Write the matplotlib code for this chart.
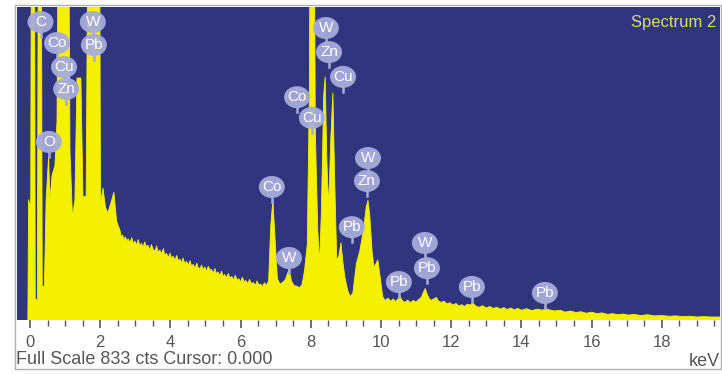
import matplotlib
matplotlib.use("Agg")
import matplotlib.pyplot as plt
import matplotlib.transforms as mtransforms
from matplotlib.patches import Ellipse, Rectangle

plt.rcParams['font.family'] = ['Liberation Sans', 'DejaVu Sans']

# spectrum: energy (keV) and counts
kev = [-0.06, -0.04, 0.02, 0.05, 0.12, 0.15, 0.21, 0.25, 0.31, 0.35, 0.41, 0.46, 0.53, 0.57,
       0.63, 0.71, 0.77, 0.83, 1.08, 1.14, 1.21, 1.28, 1.34, 1.45, 1.51, 1.60, 1.68, 1.97,
       2.01, 2.08, 2.15, 2.22, 2.30, 2.39, 2.47,
       2.56, 2.60, 2.64, 2.68, 2.72, 2.76, 2.80, 2.85, 2.90, 2.94, 2.99, 3.04, 3.08, 3.13,
       3.18, 3.22, 3.27, 3.31, 3.36, 3.42, 3.46, 3.51, 3.56, 3.61, 3.65, 3.70, 3.75, 3.80,
       3.84, 3.89, 3.94, 3.99, 4.03, 4.08, 4.13, 4.18, 4.22, 4.27, 4.32, 4.36, 4.41, 4.46,
       4.51, 4.56, 4.60, 4.65, 4.70, 4.75, 4.79, 4.84, 4.89, 4.93, 4.98, 5.03, 5.08, 5.13,
       5.17, 5.22, 5.27, 5.31, 5.36, 5.41, 5.46, 5.50, 5.55, 5.60, 5.65, 5.70, 5.75, 5.80,
       5.85, 5.90, 5.95, 6.00, 6.05, 6.10, 6.15, 6.20, 6.26, 6.31, 6.36, 6.42, 6.47, 6.52,
       6.57, 6.62, 6.68, 6.74, 6.80,
       6.86, 6.92, 6.98, 7.05, 7.12, 7.20, 7.28, 7.38, 7.45, 7.52, 7.60,
       7.68, 7.75, 7.82, 7.90, 7.96, 8.00, 8.08, 8.13, 8.20, 8.25, 8.30, 8.37, 8.41, 8.46,
       8.51, 8.57, 8.63, 8.68, 8.74, 8.80, 8.86, 8.92, 8.98, 9.05, 9.12, 9.20, 9.30, 9.40,
       9.50, 9.58, 9.63, 9.68, 9.75, 9.80, 9.86, 9.91, 9.97,
       10.05, 10.12, 10.20, 10.28, 10.35, 10.42, 10.50, 10.54, 10.60, 10.68, 10.76, 10.84,
       10.92, 11.00, 11.08, 11.15, 11.20, 11.26, 11.31, 11.37, 11.43, 11.50, 11.58, 11.64,
       11.72, 11.80, 11.88, 11.96, 12.05, 12.14, 12.22, 12.30, 12.38, 12.46, 12.54, 12.62,
       12.70, 12.80, 12.90, 13.00, 13.10, 13.20, 13.30, 13.40, 13.50, 13.60, 13.70, 13.80,
       13.90, 14.00, 14.15, 14.30, 14.45, 14.60, 14.70, 14.80, 14.95, 15.10, 15.25, 15.40,
       15.55, 15.70, 15.85, 16.00, 16.15, 16.30, 16.45, 16.60, 16.75, 16.90, 17.05, 17.20,
       17.40, 17.60, 17.80, 18.00, 18.20, 18.40, 18.60, 18.80, 19.00, 19.20, 19.40, 19.70]
counts = [0, 320, 300, 1500, 1500, 55, 55, 1500, 1500, 90, 90, 320, 434, 320,
          386, 410, 530, 1500, 1500, 450, 274, 320, 644, 644, 327, 330, 1500, 1500,
          311, 351, 300, 285, 310, 340, 262,
          240, 222, 226, 214, 221, 210, 216, 206, 219, 204, 210, 199, 214, 198,
          204, 193, 208, 195, 199, 186, 201, 188, 184, 197, 180, 186, 176, 190,
          173, 177, 166, 178, 164, 170, 159, 172, 158, 162, 152, 165, 150, 156,
          146, 158, 144, 148, 138, 151, 140, 136, 146, 134, 141, 130, 143, 132,
          135, 124, 137, 123, 128, 118, 130, 116, 121, 112, 124, 111, 116, 107,
          119, 106, 110, 101, 114, 102, 105, 97, 108, 96, 100, 92, 104, 93,
          96, 89, 99, 92, 105,
          250, 319, 220, 110, 96, 100, 108, 135, 104, 92, 90,
          86, 94, 130, 200, 600, 1500, 1500, 500, 240, 150, 280, 600, 647, 420,
          300, 480, 604, 380, 160, 170, 205, 150, 110, 80, 62, 72, 150, 185,
          240, 300, 319, 280, 180, 141, 150, 160, 120,
          62, 52, 58, 50, 56, 49, 58, 64, 52, 47, 53, 46,
          52, 48, 55, 60, 72, 84, 70, 58, 52, 56, 60, 50,
          47, 50, 43, 46, 40, 44, 37, 41, 36, 42, 40, 45,
          37, 34, 38, 32, 36, 31, 34, 29, 33, 28, 32, 27,
          31, 26, 30, 25, 29, 26, 30, 27, 24, 26, 21, 24,
          20, 22, 18, 21, 17, 19, 15, 17, 14, 16, 13, 15,
          12, 14, 11, 12, 10, 11, 9, 10, 8, 9, 8, 8]

# element markers: name, energy of the marker centre, height in counts
label_el = ['C', 'W', 'Co', 'Pb', 'Cu', 'Zn', 'O',
            'W', 'Zn', 'Cu', 'Co', 'Cu', 'W', 'Zn', 'Co', 'Pb', 'W',
            'Pb', 'W', 'Pb', 'Pb', 'Pb']
label_kev = [0.30, 1.79, 0.77, 1.82, 0.97, 1.03, 0.54,
             8.43, 8.52, 8.92, 7.61, 8.03, 9.63, 9.60, 6.89, 9.17, 7.38,
             10.51, 11.25, 11.31, 12.59, 14.67]
label_cts = [793, 793, 737, 732, 673, 615, 474,
             777, 713, 647, 593, 538, 431, 370, 354, 247, 165,
             101, 205, 138, 88, 72]

xticks = [0, 2, 4, 6, 8, 10, 12, 14, 16, 18]
full_scale = 833

navy = '#31357e'
yellow = '#f4f000'
bubble = '#a7acdb'

fig = plt.figure(figsize=(7.22, 3.74), dpi=100)
fig.patch.set_facecolor('white')
ax = fig.add_axes([17 / 722, 1 - 320 / 374, 703 / 722, 313 / 374])
ax.set_facecolor(navy)

ax.fill_between(kev, counts, 0, color=yellow, lw=0.6, edgecolor=yellow)
ax.set_xlim(-0.37, 19.66)
ax.set_ylim(0, full_scale)

for s in ax.spines.values():
    s.set_visible(False)
ax.set_yticks([])
ax.set_xticks(xticks)
ax.set_xticks([i * 0.5 for i in range(0, 40)], minor=True)
ax.tick_params(axis='x', which='major', length=6, width=1.2, color='#555555',
               labelsize=12, labelcolor='#555555', pad=5)
ax.tick_params(axis='x', which='minor', length=4, width=1.0, color='#555555')

for el, kx, cy in zip(label_el, label_kev, label_cts):
    tr = mtransforms.ScaledTranslation(kx, cy, ax.transData)
    ax.add_patch(Ellipse((0, 0), 26, 22, transform=tr, facecolor=bubble,
                         edgecolor='none', alpha=0.95, zorder=4))
    ax.plot([0, 0], [-10.5, -15], transform=tr, color=bubble, lw=1.8, zorder=4)
    ax.text(0, 0, el, transform=tr, ha='center', va='center', color='white',
            fontsize=11, zorder=5)

ax.text(0.995, 0.975, 'Spectrum 2', transform=ax.transAxes, ha='right', va='top',
        color='#d4dc78', fontsize=12)

fig.text(16 / 722, 1 - 360 / 374, 'Full Scale %d cts Cursor: 0.000' % full_scale,
         ha='left', va='center', color='#555555', fontsize=13)
fig.text(720 / 722, 1 - 370 / 374, 'keV', ha='right', va='bottom',
         color='#555555', fontsize=13)

fig.add_artist(Rectangle((15 / 722, 1 - 369 / 374), 706 / 722, 364 / 374,
                         transform=fig.transFigure, fill=False,
                         edgecolor='#b0b0b0', lw=1))

fig.savefig('out.png', dpi=100)
